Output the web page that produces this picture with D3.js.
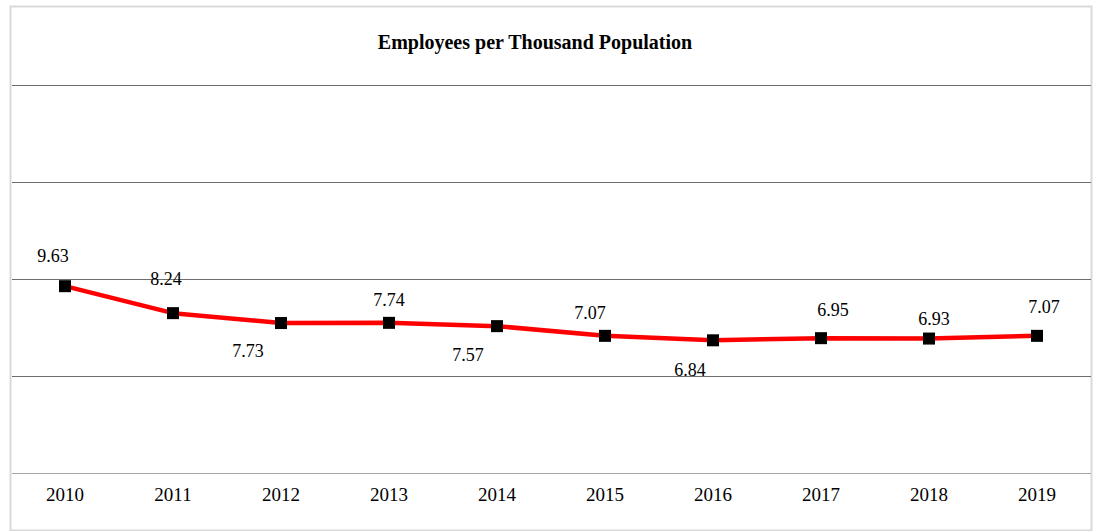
<!DOCTYPE html>
<html>
<head>
<meta charset="utf-8">
<script src="https://cdn.jsdelivr.net/npm/d3@7"></script>
<style>
  body { margin: 0; background: #fff; }
  text { font-family: "Liberation Serif", "Times New Roman", serif; fill: #000; }
</style>
</head>
<body>
<div id="chart"></div>
<script>
// data
const years = ["2010", "2011", "2012", "2013", "2014", "2015", "2016", "2017", "2018", "2019"];
const employees = [9.63, 8.24, 7.73, 7.74, 7.57, 7.07, 6.84, 6.95, 6.93, 7.07];
const gridValues = [0, 5, 10, 15, 20];

// hand placed data labels (offset from the marker, px)
const labelDx = [-12, -7, -33, 0, -29, -15, -23, 12, 5, 7];
const labelDy = [-24, -28, 34, -17, 35, -17, 36, -22, -14, -23];

const W = 1097, H = 531;
const margin = { top: 85, right: 6, bottom: 58, left: 11 };
const width = W - margin.left - margin.right;
const height = H - margin.top - margin.bottom;

const svg = d3.select("#chart")
  .append("svg")
  .attr("width", W)
  .attr("height", H);

// outer chart border
svg.append("rect")
  .attr("x", 10.5)
  .attr("y", 6.5)
  .attr("width", 1081)
  .attr("height", 524)
  .style("fill", "none")
  .style("stroke", "#d9d9d9")
  .style("stroke-width", 2);

// title
svg.append("text")
  .attr("x", 535)
  .attr("y", 49)
  .attr("text-anchor", "middle")
  .style("font-size", "20px")
  .style("font-weight", "bold")
  .text("Employees per Thousand Population");

const g = svg.append("g")
  .attr("transform", "translate(" + margin.left + "," + margin.top + ")");

const xScale = d3.scaleBand()
  .domain(years)
  .range([0, width]);

const yScale = d3.scaleLinear()
  .domain([0, 20])
  .range([height, 0]);

// horizontal gridlines
g.selectAll(".grid")
  .data(gridValues)
  .enter()
  .append("line")
  .attr("class", "grid")
  .attr("x1", 1)
  .attr("x2", width)
  .attr("y1", (d) => Math.round(yScale(d)) + 0.5)
  .attr("y2", (d) => Math.round(yScale(d)) + 0.5)
  .style("stroke", (d) => (d === 0 ? "#a6a6a6" : "#6e6e6e"))
  .style("stroke-width", 1);

// x axis (labels only)
const xAxis = g.append("g")
  .attr("transform", "translate(0," + height + ")")
  .call(d3.axisBottom(xScale).tickSize(0).tickPadding(15));
xAxis.select(".domain").remove();
xAxis.selectAll("text")
  .style("font-family", '"Liberation Serif", serif')
  .style("font-size", "19px")
  .style("fill", "#000");

const cx = (d, i) => xScale(years[i]) + xScale.bandwidth() / 2;

// line
const line = d3.line()
  .x((d, i) => cx(d, i))
  .y((d) => yScale(d));

g.append("path")
  .datum(employees)
  .attr("d", line)
  .style("fill", "none")
  .style("stroke", "#ff0000")
  .style("stroke-width", 4.5)
  .style("stroke-linejoin", "round");

// square markers
g.selectAll(".marker")
  .data(employees)
  .enter()
  .append("rect")
  .attr("class", "marker")
  .attr("x", (d, i) => cx(d, i) - 6)
  .attr("y", (d) => yScale(d) - 6)
  .attr("width", 12)
  .attr("height", 12)
  .style("fill", "#000");

// data labels
g.selectAll(".label")
  .data(employees)
  .enter()
  .append("text")
  .attr("class", "label")
  .attr("x", (d, i) => cx(d, i) + labelDx[i])
  .attr("y", (d, i) => yScale(d) + labelDy[i])
  .attr("text-anchor", "middle")
  .style("font-size", "18px")
  .text((d) => d.toFixed(2));
</script>
</body>
</html>
